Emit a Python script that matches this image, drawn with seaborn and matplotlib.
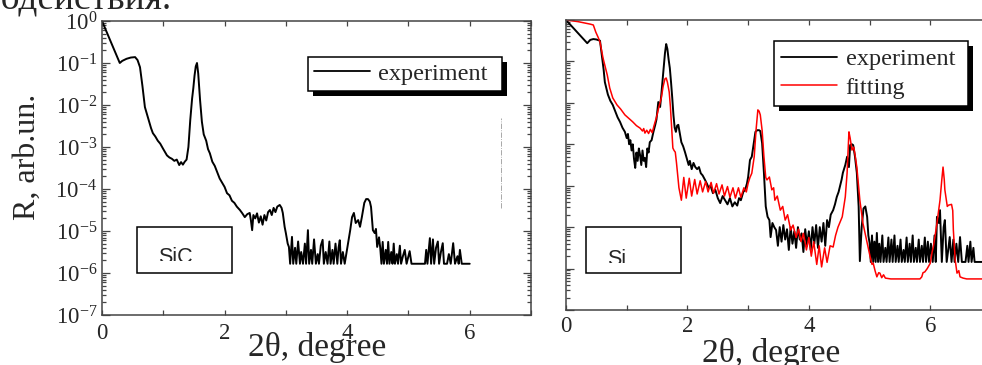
import numpy as np
import pandas as pd
import matplotlib
matplotlib.use("Agg")
import matplotlib.pyplot as plt
import seaborn as sns
from matplotlib.patches import Rectangle
from matplotlib.ticker import FixedLocator, LogLocator, FuncFormatter, NullFormatter
from matplotlib.transforms import Bbox, TransformedBbox, IdentityTransform

# ---------------- data: reflectivity curves, log10(R) vs 2theta (deg) ----------------
sic_two_theta = [
    0.00, 0.29, 0.33, 0.40, 0.47, 0.54, 0.58, 0.62, 0.66, 0.70, 0.73, 0.76, 0.80, 0.83,
    0.87, 0.91, 0.95, 1.00, 1.06, 1.10, 1.14, 1.18, 1.22, 1.26, 1.29, 1.32, 1.35, 1.38,
    1.41, 1.44, 1.47, 1.49, 1.51, 1.53, 1.55, 1.57, 1.60, 1.63, 1.66, 1.70, 1.73, 1.76,
    1.80, 1.84, 1.88, 1.92, 1.96, 2.00, 2.04, 2.08, 2.12, 2.16, 2.20, 2.25, 2.29, 2.33,
    2.37, 2.41, 2.43, 2.45, 2.47, 2.50, 2.53, 2.56, 2.59, 2.62, 2.65, 2.68, 2.71, 2.74,
    2.77, 2.80, 2.83, 2.86, 2.90, 2.93, 2.95, 2.98, 3.00, 3.03, 3.05,
    3.07, 3.10, 3.12, 3.15, 3.17, 3.20, 3.23, 3.25, 3.28, 3.31, 3.33, 3.36, 3.38, 3.41,
    3.43, 3.46, 3.49, 3.52, 3.54, 3.57, 3.60, 3.62, 3.65, 3.68, 3.71, 3.73, 3.76, 3.78,
    3.81, 3.84, 3.86, 3.88, 3.90, 3.93, 3.96, 4.01, 4.05, 4.08, 4.11, 4.14, 4.18, 4.21,
    4.24, 4.28, 4.31, 4.34, 4.37, 4.39, 4.42, 4.45, 4.47, 4.49, 4.52, 4.54, 4.56, 4.58,
    4.60, 4.63, 4.65, 4.67, 4.69, 4.72, 4.74, 4.76, 4.78, 4.81, 4.83, 4.86, 4.88, 4.91,
    4.94, 4.97, 5.00, 5.02, 5.05, 5.27, 5.29, 5.31, 5.35, 5.37, 5.40, 5.42, 5.45, 5.48,
    5.50, 5.53, 5.56, 5.58, 5.63, 5.66, 5.69, 5.73, 5.76, 5.80, 5.82, 5.84, 5.87, 6.00,
]
sic_log_r = [
    0.00, -1.00, -0.95, -0.90, -0.87, -0.86, -0.93, -1.10, -1.55, -2.05, -2.20, -2.35, -2.55, -2.67,
    -2.75, -2.85, -2.92, -3.05, -3.20, -3.25, -3.28, -3.33, -3.30, -3.43, -3.36, -3.42, -3.35, -3.30,
    -3.00, -2.36, -1.85, -1.60, -1.30, -1.08, -1.00, -1.25, -1.88, -2.40, -2.70, -2.85, -3.05, -3.15,
    -3.35, -3.45, -3.60, -3.75, -3.85, -3.95, -4.10, -4.15, -4.28, -4.33, -4.42, -4.50, -4.58, -4.67,
    -4.60, -4.57, -4.75, -4.98, -4.62, -4.70, -4.58, -4.80, -4.65, -4.85, -4.62, -4.75, -4.55, -4.50,
    -4.62, -4.45, -4.55, -4.42, -4.38, -4.45, -4.57, -4.90, -5.05, -5.30, -5.38,
    -5.78, -5.14, -5.78, -5.40, -5.78, -5.25, -5.78, -5.50, -5.78, -5.30, -5.78, -4.98, -5.78, -5.45,
    -5.78, -5.20, -5.78, -5.55, -5.78, -5.35, -5.21, -5.78, -5.50, -5.78, -5.25, -5.78, -5.45, -5.78,
    -5.30, -5.78, -5.40, -5.22, -5.78, -5.50, -5.78, -5.33, -4.98, -4.67, -4.57, -4.81, -4.74, -4.90,
    -4.67, -4.33, -4.24, -4.24, -4.30, -4.43, -4.98, -5.05, -4.95, -5.38, -5.15, -5.40, -5.78, -5.26,
    -5.78, -5.45, -5.78, -5.26, -5.78, -5.50, -5.78, -5.30, -5.78, -5.55, -5.78, -5.35, -5.78, -5.60,
    -5.45, -5.78, -5.60, -5.48, -5.78, -5.78, -5.45, -5.78, -5.17, -5.78, -5.20, -5.78, -5.40, -5.25,
    -5.78, -5.50, -5.29, -5.78, -5.78, -5.55, -5.78, -5.29, -5.78, -5.60, -5.78, -5.45, -5.78, -5.78,
]

si_exp_two_theta = [
    0.00, 0.35, 0.40, 0.45, 0.50, 0.56, 0.59, 0.62, 0.64, 0.69, 0.73, 0.77, 0.81, 0.85,
    0.89, 0.93, 0.97, 1.00, 1.02, 1.04, 1.06, 1.08, 1.10, 1.12, 1.14, 1.16, 1.18, 1.20,
    1.22, 1.24, 1.26, 1.28, 1.30, 1.32, 1.34, 1.36, 1.38, 1.41, 1.44, 1.47, 1.49, 1.52,
    1.55, 1.57, 1.60, 1.63, 1.65, 1.67, 1.69, 1.71, 1.73, 1.75, 1.77, 1.79, 1.81, 1.83,
    1.85, 1.87, 1.90, 1.93, 1.96, 1.99, 2.02, 2.04, 2.07, 2.10, 2.13, 2.16, 2.19, 2.22,
    2.25, 2.29, 2.32, 2.35, 2.38, 2.42, 2.46, 2.50, 2.54, 2.58, 2.62, 2.66, 2.70, 2.74,
    2.78, 2.82, 2.85, 2.88, 2.92, 2.95, 2.98, 3.00, 3.03, 3.06, 3.09, 3.12, 3.15, 3.18,
    3.20, 3.23, 3.26, 3.29, 3.32, 3.35, 3.37, 3.40, 3.43, 3.46, 3.49, 3.52, 3.55, 3.58,
    3.61, 3.64, 3.67, 3.70, 3.73, 3.76, 3.79, 3.82, 3.85, 3.88, 3.91, 3.94, 3.97, 4.00,
    4.03, 4.06, 4.09, 4.12, 4.15, 4.18, 4.21, 4.24, 4.27, 4.30, 4.33, 4.36, 4.40, 4.43,
    4.46, 4.49, 4.51, 4.54, 4.56, 4.60, 4.63, 4.66, 4.68, 4.71, 4.73, 4.76, 4.79, 4.82,
    4.84, 4.87, 4.90, 4.93, 4.96, 4.98, 5.00,
    5.02, 5.04, 5.06, 5.08, 5.10, 5.12, 5.14, 5.16, 5.18, 5.21, 5.23, 5.26, 5.28, 5.31,
    5.33, 5.36, 5.38, 5.41, 5.43, 5.46, 5.48, 5.51, 5.53, 5.56, 5.58, 5.61, 5.63, 5.66,
    5.68, 5.71, 5.73, 5.76, 5.78, 5.81, 5.83, 5.86, 5.88, 5.91, 5.93, 5.96, 5.98, 6.01,
    6.04, 6.07, 6.09, 6.11, 6.14, 6.16, 6.19, 6.22, 6.24, 6.27, 6.30, 6.32, 6.35, 6.38,
    6.40, 6.43, 6.46, 6.49, 6.52, 6.58, 6.61, 6.63, 6.66, 6.68, 6.71, 6.73, 7.00,
]
si_exp_log_r = [
    0.00, -0.56, -0.48, -0.46, -0.47, -0.50, -0.85, -1.20, -1.50, -1.80, -1.95, -2.05, -2.20, -2.35,
    -2.46, -2.60, -2.70, -2.85, -2.75, -3.00, -2.90, -3.15, -3.00, -3.35, -3.57, -3.20, -3.40, -3.10,
    -3.26, -3.50, -3.15, -3.40, -3.33, -3.55, -3.10, -3.20, -2.95, -2.90, -2.70, -2.53, -2.40, -1.98,
    -2.10, -1.80, -1.30, -0.80, -0.58, -0.70, -0.95, -1.16, -1.50, -1.88, -2.30, -2.60, -2.70, -2.55,
    -2.53, -2.70, -2.95, -3.05, -3.19, -3.35, -3.50, -3.40, -3.60, -3.45, -3.55, -3.60, -3.55, -3.70,
    -3.75, -3.86, -3.95, -4.05, -4.00, -4.18, -4.10, -4.30, -4.42, -4.25, -4.35, -4.45, -4.30, -4.50,
    -4.40, -4.48, -4.30, -4.35, -4.15, -4.10, -3.95, -3.79, -3.38, -3.30, -3.00, -2.70, -2.66, -2.66,
    -2.68, -2.97, -3.69, -4.50, -4.75, -4.83, -5.24, -4.90, -5.00, -5.07, -5.45, -5.00, -5.35, -4.95,
    -5.30, -5.05, -5.55, -5.00, -5.40, -5.10, -5.50, -5.00, -5.30, -5.15, -5.60, -5.05, -5.45, -5.10,
    -5.55, -5.00, -5.40, -4.95, -5.50, -5.00, -5.35, -4.90, -5.45, -4.83, -5.00, -4.70, -4.59, -4.45,
    -4.27, -4.15, -4.03, -3.85, -3.69, -3.50, -3.30, -3.55, -3.02, -3.00, -3.02, -3.30, -3.69, -4.50,
    -5.82, -5.00, -4.55, -4.50, -4.75, -5.20, -5.38,
    -5.84, -5.20, -5.84, -5.35, -5.84, -5.14, -5.84, -5.40, -5.84, -5.20, -5.84, -5.50, -5.84, -5.25,
    -5.84, -5.30, -5.84, -5.20, -5.84, -5.45, -5.84, -5.30, -5.84, -5.55, -5.84, -5.25, -5.84, -5.40,
    -5.84, -5.20, -5.84, -5.50, -5.84, -5.30, -5.84, -5.45, -5.84, -5.25, -5.84, -5.35, -5.84, -5.40,
    -5.84, -5.20, -5.84, -4.75, -4.90, -4.59, -5.84, -5.00, -4.83, -5.84, -5.50, -5.24, -5.84, -5.30,
    -5.84, -5.40, -5.84, -5.24, -5.84, -5.84, -5.45, -5.84, -5.35, -5.84, -5.50, -5.84, -5.84,
]

si_fit_two_theta = [
    0.00, 0.10, 0.20, 0.30, 0.40, 0.45, 0.49, 0.53, 0.56, 0.61, 0.65, 0.68, 0.72, 0.77,
    0.84, 0.90, 0.97, 1.04, 1.10, 1.16, 1.22, 1.26, 1.28, 1.30, 1.33, 1.36, 1.39, 1.42,
    1.45, 1.48, 1.50, 1.53, 1.57, 1.60, 1.63, 1.65, 1.67, 1.70, 1.72, 1.74, 1.76, 1.78,
    1.80, 1.82, 1.84, 1.86, 1.90, 1.94, 1.98, 2.03, 2.07, 2.12, 2.16, 2.21, 2.25, 2.30,
    2.34, 2.39, 2.43, 2.48, 2.52, 2.57, 2.61, 2.66, 2.70, 2.75, 2.79, 2.84, 2.88, 2.93,
    2.97, 3.00, 3.03, 3.06, 3.10, 3.13, 3.16, 3.18, 3.20, 3.23, 3.26, 3.29, 3.31, 3.35,
    3.39, 3.42, 3.44, 3.48, 3.53, 3.57, 3.61, 3.65, 3.70, 3.74, 3.79, 3.83, 3.87, 3.91,
    3.96, 4.00, 4.04, 4.08, 4.13, 4.17, 4.21, 4.26, 4.30, 4.35, 4.40, 4.44, 4.48, 4.55,
    4.60, 4.63, 4.66, 4.68, 4.71, 4.74, 4.76, 4.79, 4.84, 4.89, 4.96, 5.01, 5.04, 5.06,
    5.09, 5.12, 5.15, 5.17, 5.20, 5.23, 5.26, 5.35, 5.83, 5.86, 5.88, 5.91, 5.95, 6.00,
    6.03, 6.05, 6.08, 6.11, 6.16, 6.19, 6.21, 6.23, 6.24, 6.28, 6.30, 6.35, 6.37, 6.38,
    6.41, 6.44, 6.47, 6.49, 6.54, 6.60, 7.00,
]
si_fit_log_r = [
    0.00, -0.02, -0.04, -0.07, -0.10, -0.12, -0.29, -0.42, -0.53, -0.92, -1.15, -1.33, -1.64, -1.88,
    -2.05, -2.15, -2.29, -2.38, -2.46, -2.55, -2.61, -2.68, -2.62, -2.73, -2.66, -2.74, -2.64, -2.72,
    -2.55, -2.40, -2.29, -2.10, -1.88, -1.60, -1.42, -1.40, -1.50, -1.74, -2.10, -2.60, -3.09, -3.15,
    -3.19, -3.45, -3.75, -4.05, -4.35, -3.80, -4.30, -3.82, -4.25, -3.85, -4.20, -3.88, -4.15, -3.90,
    -4.15, -3.92, -4.18, -3.95, -4.20, -3.98, -4.25, -4.02, -4.28, -4.05, -4.30, -4.05, -4.28, -4.05,
    -4.15, -3.94, -3.80, -3.70, -3.30, -2.66, -2.17, -2.20, -2.29, -2.66, -3.30, -3.80, -3.86, -3.79,
    -4.10, -4.05, -4.35, -4.25, -4.59, -4.50, -4.83, -4.70, -5.07, -4.95, -5.25, -5.05, -5.35, -5.15,
    -5.55, -5.25, -5.70, -5.35, -5.90, -5.45, -5.96, -5.50, -5.85, -5.45, -5.48, -5.20, -5.00, -4.75,
    -4.27, -3.69, -2.70, -2.85, -3.14, -3.07, -3.25, -3.55, -4.35, -4.90, -5.38, -5.72, -5.90, -5.87,
    -6.05, -6.20, -6.10, -6.11, -6.22, -6.15, -6.23, -6.25, -6.25, -6.20, -6.10, -6.08, -6.00, -5.87,
    -5.60, -5.48, -5.20, -4.90, -4.35, -3.85, -3.55, -3.85, -4.10, -4.50, -4.47, -4.45, -4.60, -5.07,
    -5.79, -6.11, -6.05, -6.20, -6.23, -6.25, -6.25,
]

panel_labels = ["SiC", "Si"]
legend_labels = ["experiment", "fitting"]

# ---------------- figure ----------------
sns.set_style("ticks")
serif = ["Liberation Serif", "DejaVu Serif"]
plt.rcParams["font.family"] = serif
plt.rcParams["mathtext.fontset"] = "custom"
plt.rcParams["mathtext.rm"] = "Liberation Serif"
plt.rcParams["mathtext.it"] = "Liberation Serif:italic"

W, H = 982, 365
fig = plt.figure(figsize=(W / 100, H / 100), dpi=100)
fig.patch.set_facecolor("white")

def px_axes(x0, y0, x1, y1):
    return fig.add_axes([x0 / W, 1 - y1 / H, (x1 - x0) / W, (y1 - y0) / H])

ax1 = px_axes(102, 21, 531, 315)
ax2 = px_axes(566, 20, 991, 310)

sic = pd.DataFrame({"two_theta": sic_two_theta, "R": np.power(10.0, sic_log_r)})
si_exp = pd.DataFrame({"two_theta": si_exp_two_theta, "R": np.power(10.0, si_exp_log_r)})
si_fit = pd.DataFrame({"two_theta": si_fit_two_theta, "R": np.power(10.0, si_fit_log_r)})

sns.lineplot(data=sic, x="two_theta", y="R", ax=ax1, color="black", lw=1.4,
             estimator=None, sort=False, label=legend_labels[0])
sns.lineplot(data=si_exp, x="two_theta", y="R", ax=ax2, color="black", lw=1.4,
             estimator=None, sort=False, label=legend_labels[0])
sns.lineplot(data=si_fit, x="two_theta", y="R", ax=ax2, color="#ff0000", lw=1.1,
             estimator=None, sort=False, label=legend_labels[1])

tick_font = 16.5
axis_grey = "#444444"

def log_label(v, pos):
    return r"$\mathregular{10^{%d}}$" % int(round(np.log10(v)))

for ax in (ax1, ax2):
    ax.set_yscale("log")
    ax.set_xlim(0, 7)
    ax.set_ylim(1e-7, 1)
    ax.set_xlabel("")
    ax.set_ylabel("")
    ax.xaxis.set_major_locator(FixedLocator([0, 2, 4, 6]))
    ax.xaxis.set_minor_locator(FixedLocator([1, 3, 5, 7]))
    ax.yaxis.set_major_locator(LogLocator(base=10, numticks=20))
    ax.yaxis.set_minor_locator(LogLocator(base=10, subs=np.arange(2, 10), numticks=20))
    ax.yaxis.set_minor_formatter(NullFormatter())
    ax.yaxis.set_major_formatter(FuncFormatter(log_label))
    for s in ax.spines.values():
        s.set_visible(True)
        s.set_color(axis_grey)
        s.set_linewidth(1.1)
    ax.tick_params(axis="both", which="both", direction="in", top=True, right=True,
                   color=axis_grey, width=0.9, labelsize=tick_font)
    ax.tick_params(axis="y", which="major", length=5.5, pad=3.5)
    ax.tick_params(axis="y", which="minor", length=3)
    ax.tick_params(axis="x", which="both", length=3.5, pad=5.5)
    for lab in ax.get_xticklabels() + ax.get_yticklabels():
        lab.set_family(serif)
    ax.set_facecolor("white")

ax2.tick_params(axis="y", which="both", labelleft=False)
ax2.tick_params(axis="x", pad=4.5)

# ---------------- legends with a solid drop shadow ----------------
leg_font = {"family": serif, "size": 17.5}
leg1 = ax1.legend(loc="upper left", bbox_to_anchor=(0.480, 0.878, 0.452, 0.0),
                  mode="expand", frameon=True, fancybox=False, borderaxespad=0,
                  handlelength=2.3, handletextpad=0.35, borderpad=0.25, prop=leg_font)
leg2 = ax2.legend(loc="upper left", bbox_to_anchor=(0.489, 0.928, 0.456, 0.0),
                  mode="expand", frameon=True, fancybox=False, borderaxespad=0,
                  handlelength=2.3, handletextpad=0.35, borderpad=0.3,
                  labelspacing=0.28, prop=leg_font)
for leg in (leg1, leg2):
    fr = leg.get_frame()
    fr.set_edgecolor("black")
    fr.set_linewidth(1.1)
    fr.set_facecolor("white")
    fr.set_alpha(1)
    leg.set_zorder(6)
    for h in leg.legend_handles:
        h.set_linewidth(1.3 if h.get_color() == "black" else 1.1)

# ---------------- sample name boxes ----------------
def sample_box(ax, ax_px, box_px, text_px, clip_px, name):
    x0a, y0a, x1a, y1a = ax_px
    wa, ha = x1a - x0a, y1a - y0a
    bx0, by0, bx1, by1 = box_px
    ax.add_patch(Rectangle(((bx0 - x0a) / wa, (y1a - by1) / ha), (bx1 - bx0) / wa,
                           (by1 - by0) / ha, transform=ax.transAxes, facecolor="white",
                           edgecolor="black", lw=1.1, zorder=5))
    tx, ty = text_px
    t = ax.text((tx - x0a) / wa, (y1a - ty) / ha, name, transform=ax.transAxes,
                ha="left", va="baseline", fontsize=15.5,
                family=["Liberation Sans", "DejaVu Sans"], zorder=6)
    clip = TransformedBbox(Bbox([[0, (y1a - clip_px) / ha], [1, 1]]), ax.transAxes)
    t.set_clip_box(clip)
    t.set_clip_on(True)

sample_box(ax1, (102, 21, 531, 315), (137, 227, 232, 273), (158, 263), 261, panel_labels[0])
sample_box(ax2, (566, 20, 991, 310), (586, 227, 681, 273), (607, 265), 263, panel_labels[1])

# faint dash-dot trace in the left panel
ax1.plot([0.930, 0.930], [0.364, 0.670], transform=ax1.transAxes, color="#9a9a9a",
         lw=0.6, ls="-.", zorder=1)

# ---------------- labels ----------------
fig.text(27 / W, 1 - 157 / H, "R, arb.un.", rotation=90, ha="center", va="center",
         fontsize=23, family=serif)
fig.text(317 / W, 1 - 356 / H, "2θ, degree", ha="center", va="baseline",
         fontsize=24, family=serif)
fig.text(771 / W, 1 - 362 / H, "2θ, degree", ha="center", va="baseline",
         fontsize=24, family=serif)
fig.text(172 / W, 1 - 8 / H, "взаимодействия.", ha="right", va="baseline",
         fontsize=27, family=serif)

# shadows drawn after layout is known
fig.canvas.draw()
for ax, leg in ((ax1, leg1), (ax2, leg2)):
    bb = leg.get_frame().get_window_extent(fig.canvas.get_renderer())
    ax.add_patch(Rectangle((bb.x0 + 5, bb.y0 - 5), bb.width, bb.height,
                           transform=IdentityTransform(), facecolor="black",
                           edgecolor="none", zorder=5.5, clip_on=False))

fig.savefig("out.png", dpi=100, facecolor="white")
